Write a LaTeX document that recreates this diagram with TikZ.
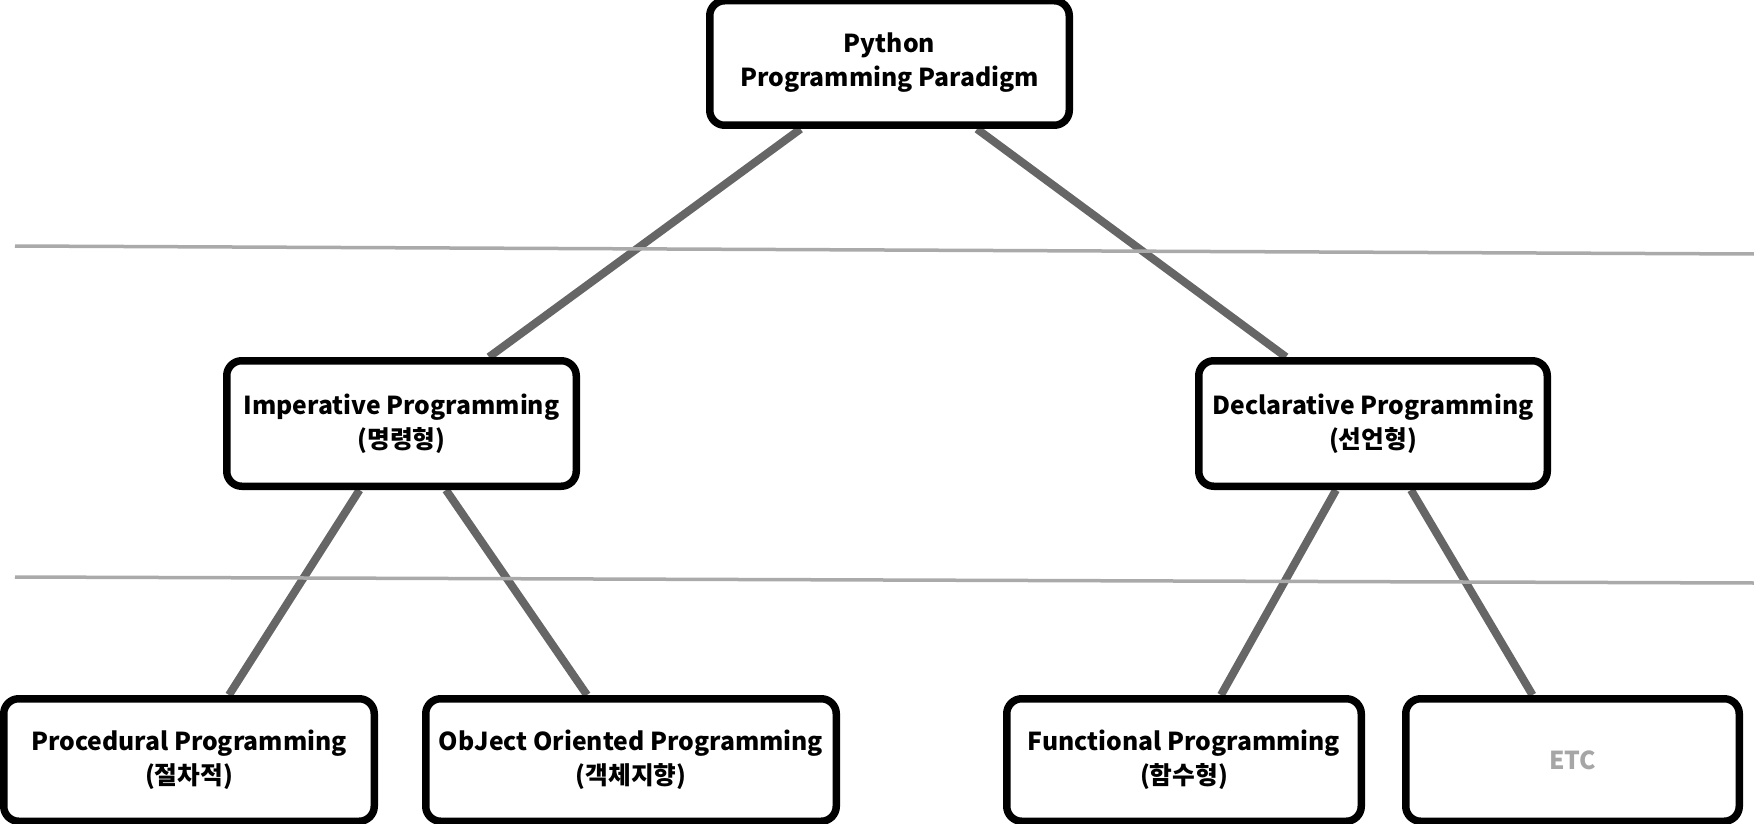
\documentclass[tikz,border=0pt]{standalone}
\usepackage{fontspec}
\setmainfont{Noto Sans CJK KR}
\usetikzlibrary{backgrounds}
\definecolor{conn}{HTML}{666666}
\definecolor{rule}{HTML}{AAAAAA}
\definecolor{etcgray}{HTML}{A6A6A6}
\begin{document}
\begin{tikzpicture}[x=1pt,y=-1pt,
  box/.style={draw=black,line width=7.5pt,rounded corners=15pt,fill=white,
    inner sep=0pt,align=center,font=\fontsize{24.7}{34}\selectfont\bfseries},
  link/.style={draw=conn,line width=8pt},
  sep/.style={draw=rule,line width=3.5pt}]
\useasboundingbox (0,0) rectangle (1754,824);
\draw[sep] (15,246) coordinate (s1a) -- (1754,254) coordinate (s1b);
\draw[sep] (15,577) coordinate (s2a) -- (1754,583) coordinate (s2b);
\node[box,minimum width=359.5pt,minimum height=124.5pt] (top) at (889.5,63) {Python\\Programming Paradigm};
\node[box,minimum width=349.5pt,minimum height=125.5pt] (imp) at (401.5,423.5) {Imperative Programming\\(명령형)};
\node[box,minimum width=348.5pt,minimum height=125.5pt] (dec) at (1373,423.5) {Declarative Programming\\(선언형)};
\node[box,minimum width=370.5pt,minimum height=122.5pt] (proc) at (189,760) {Procedural Programming\\(절차적)};
\node[box,minimum width=410.5pt,minimum height=122.5pt] (oop) at (631,760) {ObJect Oriented Programming\\(객체지향)};
\node[box,minimum width=354.5pt,minimum height=122.5pt] (func) at (1184,760) {Functional Programming\\(함수형)};
\node[box,minimum width=333.5pt,minimum height=122.5pt,text=etcgray] (etc) at (1572.5,760) {ETC};
\begin{scope}[on background layer]
\draw[link] ([xshift=-89pt]top.south) -- ([xshift=87.5pt]imp.north);
\draw[link] ([xshift=87.5pt]top.south) -- ([xshift=-87pt]dec.north);
\draw[link] ([xshift=-42pt]imp.south) -- ([xshift=40pt]proc.north);
\draw[link] ([xshift=44.5pt]imp.south) -- ([xshift=-44pt]oop.north);
\draw[link] ([xshift=-37pt]dec.south) -- ([xshift=37pt]func.north);
\draw[link] ([xshift=38pt]dec.south) -- ([xshift=-40pt]etc.north);
\end{scope}
\end{tikzpicture}
\end{document}
